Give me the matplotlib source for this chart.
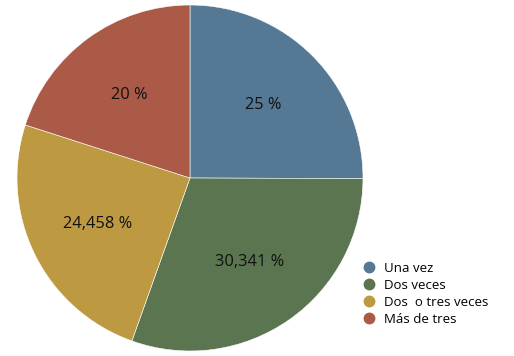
import matplotlib.pyplot as plt
from matplotlib.lines import Line2D

# --- data ---
categories = ["Una vez", "Dos veces", "Dos  o tres veces", "Más de tres"]
values = [25, 30.341, 24.458, 20]
colors = ["#557894", "#5b7550", "#bd9a42", "#ab5a48"]

plt.rcParams["font.family"] = ["Open Sans", "DejaVu Sans"]

fig = plt.figure(figsize=(5.14, 3.56), dpi=100)
ax = fig.add_axes([17 / 514, 5 / 356, 346 / 514, 346 / 356])

labels_pct = iter(f"{v:g}".replace(".", ",") + " %" for v in values)
wedges, texts, autotexts = ax.pie(
    values, colors=colors, startangle=90, counterclock=False,
    autopct=lambda p: next(labels_pct), pctdistance=0.595,
    wedgeprops=dict(edgecolor="white", linewidth=0.4),
    textprops=dict(fontsize=11.8, color="#111111"),
)
ax.set_xlim(-1, 1)
ax.set_ylim(-1, 1)
ax.set_aspect("equal")

handles = [Line2D([], [], marker="o", linestyle="none", markersize=7.5,
                  markerfacecolor=c, markeredgecolor=c) for c in colors]
fig.legend(handles, categories, loc="upper left",
           bbox_to_anchor=(364 / 514, 1 - 262 / 356), frameon=False,
           fontsize=9.5, handlelength=0.8, handletextpad=0.75,
           labelspacing=0.3, borderaxespad=0, borderpad=0)

fig.savefig("out.png", dpi=100)
